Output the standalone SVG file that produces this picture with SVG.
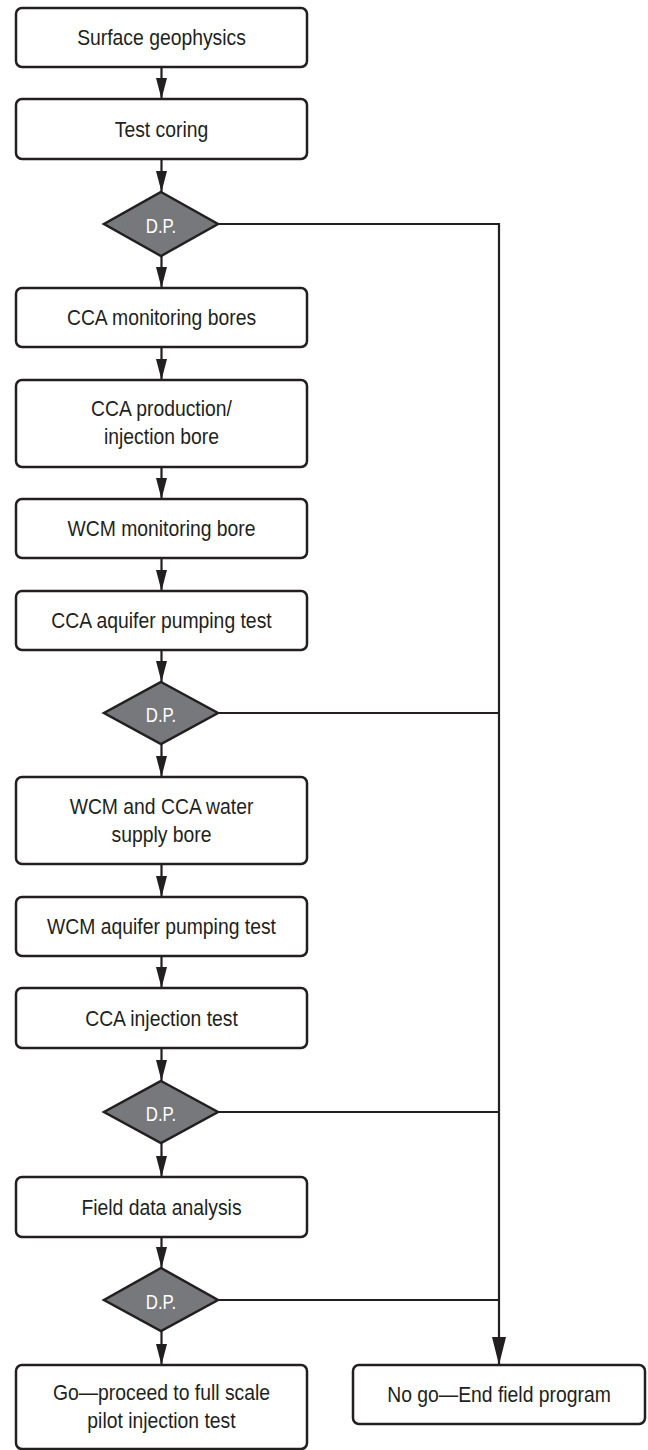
<svg xmlns="http://www.w3.org/2000/svg" width="648" height="1450" viewBox="0 0 648 1450">
<defs>
<style>
.box{fill:#ffffff;stroke:#231f20;stroke-width:2.5}
.dp{fill:#77787b;stroke:#231f20;stroke-width:2.5;stroke-linejoin:miter}
.t{font-family:"Liberation Sans",Arial,sans-serif;font-size:21.5px;fill:#231f20;text-anchor:middle}
.dt{font-family:"Liberation Sans",Arial,sans-serif;font-size:21px;fill:#ffffff;text-anchor:middle}
.c{fill:none;stroke:#231f20;stroke-width:2.2}
</style>
<marker id="ah" markerUnits="userSpaceOnUse" markerWidth="22" markerHeight="12" refX="21" refY="5.5" orient="auto">
<path d="M0,0 L21,5.5 L0,11 Z" fill="#231f20"/>
</marker>
<marker id="ahb" markerUnits="userSpaceOnUse" markerWidth="29" markerHeight="15" refX="28" refY="7" orient="auto">
<path d="M0,0 L28,7 L0,14 Z" fill="#231f20"/>
</marker>
</defs>
<rect width="648" height="1450" fill="#ffffff"/>

<g id="connectors">
<path class="c" d="M161.5,67 V99" marker-end="url(#ah)"/>
<path class="c" d="M161.5,159 V192" marker-end="url(#ah)"/>
<path class="c" d="M161.5,256 V288" marker-end="url(#ah)"/>
<path class="c" d="M161.5,347 V380" marker-end="url(#ah)"/>
<path class="c" d="M161.5,467 V499" marker-end="url(#ah)"/>
<path class="c" d="M161.5,558 V591" marker-end="url(#ah)"/>
<path class="c" d="M161.5,650 V682" marker-end="url(#ah)"/>
<path class="c" d="M161.5,744 V777" marker-end="url(#ah)"/>
<path class="c" d="M161.5,864 V897" marker-end="url(#ah)"/>
<path class="c" d="M161.5,956 V988" marker-end="url(#ah)"/>
<path class="c" d="M161.5,1048 V1081" marker-end="url(#ah)"/>
<path class="c" d="M161.5,1143 V1177" marker-end="url(#ah)"/>
<path class="c" d="M161.5,1237 V1268" marker-end="url(#ah)"/>
<path class="c" d="M161.5,1331 V1365" marker-end="url(#ah)"/>
<path class="c" d="M218,224 H499 V1365" marker-end="url(#ahb)"/>
<path class="c" d="M218,713 H499"/>
<path class="c" d="M218,1112 H499"/>
<path class="c" d="M218,1300 H499"/>
</g>

<g id="n1"><rect class="box" x="16" y="8" width="291" height="59" rx="6"/><text class="t" transform="translate(161.5,45) scale(0.9,1)">Surface geophysics</text></g>
<g id="n2"><rect class="box" x="16" y="99" width="291" height="60" rx="6"/><text class="t" transform="translate(161.5,136.5) scale(0.9,1)">Test coring</text></g>
<g id="d1"><polygon class="dp" points="161,192 218,224 161,256 104,224"/><text class="dt" transform="translate(161,233) scale(0.8,1)">D.P.</text></g>
<g id="n3"><rect class="box" x="16" y="288" width="291" height="59" rx="6"/><text class="t" transform="translate(161.5,325) scale(0.9,1)">CCA monitoring bores</text></g>
<g id="n4"><rect class="box" x="16" y="380" width="291" height="87" rx="6"/><text class="t" transform="translate(161.5,416) scale(0.9,1)">CCA production/</text><text class="t" transform="translate(161.5,444) scale(0.9,1)">injection bore</text></g>
<g id="n5"><rect class="box" x="16" y="499" width="291" height="59" rx="6"/><text class="t" transform="translate(161.5,536) scale(0.9,1)">WCM monitoring bore</text></g>
<g id="n6"><rect class="box" x="16" y="591" width="291" height="59" rx="6"/><text class="t" transform="translate(161.5,628) scale(0.9,1)">CCA aquifer pumping test</text></g>
<g id="d2"><polygon class="dp" points="161,682 218,713 161,744 104,713"/><text class="dt" transform="translate(161,722) scale(0.8,1)">D.P.</text></g>
<g id="n7"><rect class="box" x="16" y="777" width="291" height="87" rx="6"/><text class="t" transform="translate(161.5,814) scale(0.9,1)">WCM and CCA water</text><text class="t" transform="translate(161.5,842) scale(0.9,1)">supply bore</text></g>
<g id="n8"><rect class="box" x="16" y="897" width="291" height="59" rx="6"/><text class="t" transform="translate(161.5,934) scale(0.9,1)">WCM aquifer pumping test</text></g>
<g id="n9"><rect class="box" x="16" y="988" width="291" height="60" rx="6"/><text class="t" transform="translate(161.5,1025.5) scale(0.9,1)">CCA injection test</text></g>
<g id="d3"><polygon class="dp" points="161,1081 218,1112 161,1143 104,1112"/><text class="dt" transform="translate(161,1121) scale(0.8,1)">D.P.</text></g>
<g id="n10"><rect class="box" x="16" y="1177" width="291" height="60" rx="6"/><text class="t" transform="translate(161.5,1214.5) scale(0.9,1)">Field data analysis</text></g>
<g id="d4"><polygon class="dp" points="161,1268 218,1300 161,1331 104,1300"/><text class="dt" transform="translate(161,1309) scale(0.8,1)">D.P.</text></g>
<g id="go"><rect class="box" x="16" y="1365" width="291" height="84" rx="6"/><text class="t" transform="translate(161.5,1400) scale(0.9,1)">Go—proceed to full scale</text><text class="t" transform="translate(161.5,1428) scale(0.9,1)">pilot injection test</text></g>
<g id="nogo"><rect class="box" x="353" y="1365" width="292" height="59" rx="6"/><text class="t" transform="translate(499,1402) scale(0.9,1)">No go—End field program</text></g>
</svg>
